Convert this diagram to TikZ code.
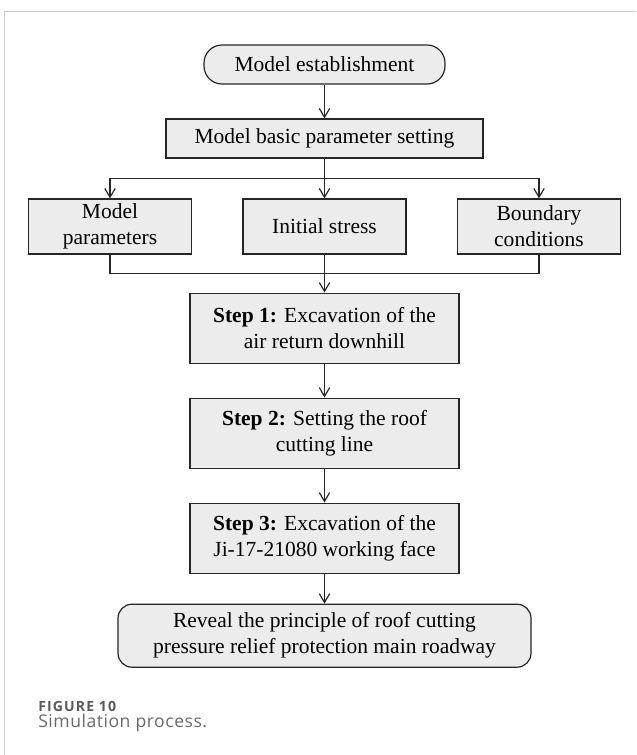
\documentclass[tikz,border=0pt]{standalone}
\usepackage{fontspec}
\setmainfont{Liberation Serif}
\newfontfamily\capfont[LetterSpace=3]{Open Sans}
\newfontfamily\capboldfont[LetterSpace=8]{Open Sans}
\usepackage{tikz}
\usetikzlibrary{shapes.geometric}
\usetikzlibrary{arrows.meta}
\usetikzlibrary{positioning}
\definecolor{boxfill}{HTML}{ECECEC}
\definecolor{linecol}{HTML}{262626}
\definecolor{framecol}{HTML}{CCCCCC}
\definecolor{capdark}{HTML}{5A5A5A}
\definecolor{caplight}{HTML}{6A6A6A}
\tikzstyle{startblock} = [rectangle, rounded corners=0.45cm, minimum width=6.025cm,
  minimum height=0.975cm, text centered, draw=linecol, fill=boxfill, line width=0.85pt]
\tikzstyle{processblock} = [rectangle, minimum width=7.925cm, minimum height=0.975cm,
  text centered, draw=linecol, fill=boxfill, line width=0.85pt]
\tikzstyle{inputblock} = [rectangle, minimum width=4.075cm, minimum height=1.375cm,
  align=center, draw=linecol, fill=boxfill, line width=0.85pt]
\tikzstyle{stepblock} = [rectangle, minimum width=6.725cm, minimum height=1.75cm,
  align=center, draw=linecol, fill=boxfill, line width=0.85pt]
\tikzstyle{endblock} = [rectangle, rounded corners=0.35cm, minimum width=10.325cm,
  minimum height=1.575cm, align=center, draw=linecol, fill=boxfill, line width=0.85pt]
\tikzstyle{arrow} = [line width=0.85pt, draw=linecol, -{Straight Barb[length=2.2mm,width=2.6mm]}]
\tikzstyle{line} = [line width=0.85pt, draw=linecol]

\begin{document}
\begin{tikzpicture}[node distance=2.5cm, font=\fontsize{15.3}{18.5}\selectfont]
  \useasboundingbox (0,0) rectangle (15.9,-18.875);
  % frame of the figure panel
  \draw [framecol, line width=0.6pt] (0.1,-18.875) -- (0.1,-0.275) -- (15.9,-0.275);
  \node (start) [startblock] at (8.1125,-1.6125) {Model establishment};
  \node (basic) [processblock, below of=start, yshift=0.65cm] {Model basic parameter setting};
  \node (init) [inputblock, below of=basic, yshift=0.3cm] {Initial stress};
  \node (params) [inputblock, left of=init, xshift=-2.8625cm] {Model\\parameters};
  \node (bound) [inputblock, right of=init, xshift=2.8625cm] {Boundary\\conditions};
  \node (step1) [stepblock, below of=init, yshift=-0.04cm] {\textbf{Step 1:} Excavation of the\\air return downhill};
  \node (step2) [stepblock, below of=step1, yshift=-0.125cm] {\textbf{Step 2:} Setting the roof\\cutting line};
  \node (step3) [stepblock, below of=step2, yshift=-0.125cm] {\textbf{Step 3:} Excavation of the\\Ji-17-21080 working face};
  \node (reveal) [endblock, below of=step3, yshift=0.06cm] {Reveal the principle of roof cutting\\pressure relief protection main roadway};
  % caption
  \node (fignum) [anchor=base west, inner sep=0pt, text=capdark, font=\capboldfont\bfseries\fontsize{10}{12}\selectfont] at (0.95,-17.79) {FIGURE 10};
  \node (figcap) [anchor=base west, inner sep=0pt, text=caplight, font=\capfont\fontsize{12.5}{14}\selectfont] at (0.95,-18.175) {Simulation process.};
  \coordinate (merge) at ([yshift=-0.475cm]init.south);
  \draw [arrow] (start) -- (basic);
  \draw [arrow] (basic) -- (init);
  \draw [arrow] (basic.south) -- ++(0,-0.5) -| (params.north);
  \draw [arrow] (basic.south) -- ++(0,-0.5) -| (bound.north);
  \draw [line] (params.south) |- (merge) -| (bound.south);
  \draw [arrow] (init) -- (step1);
  \draw [arrow] (step1) -- (step2);
  \draw [arrow] (step2) -- (step3);
  \draw [arrow] (step3) -- (reveal);
\end{tikzpicture}
\end{document}
